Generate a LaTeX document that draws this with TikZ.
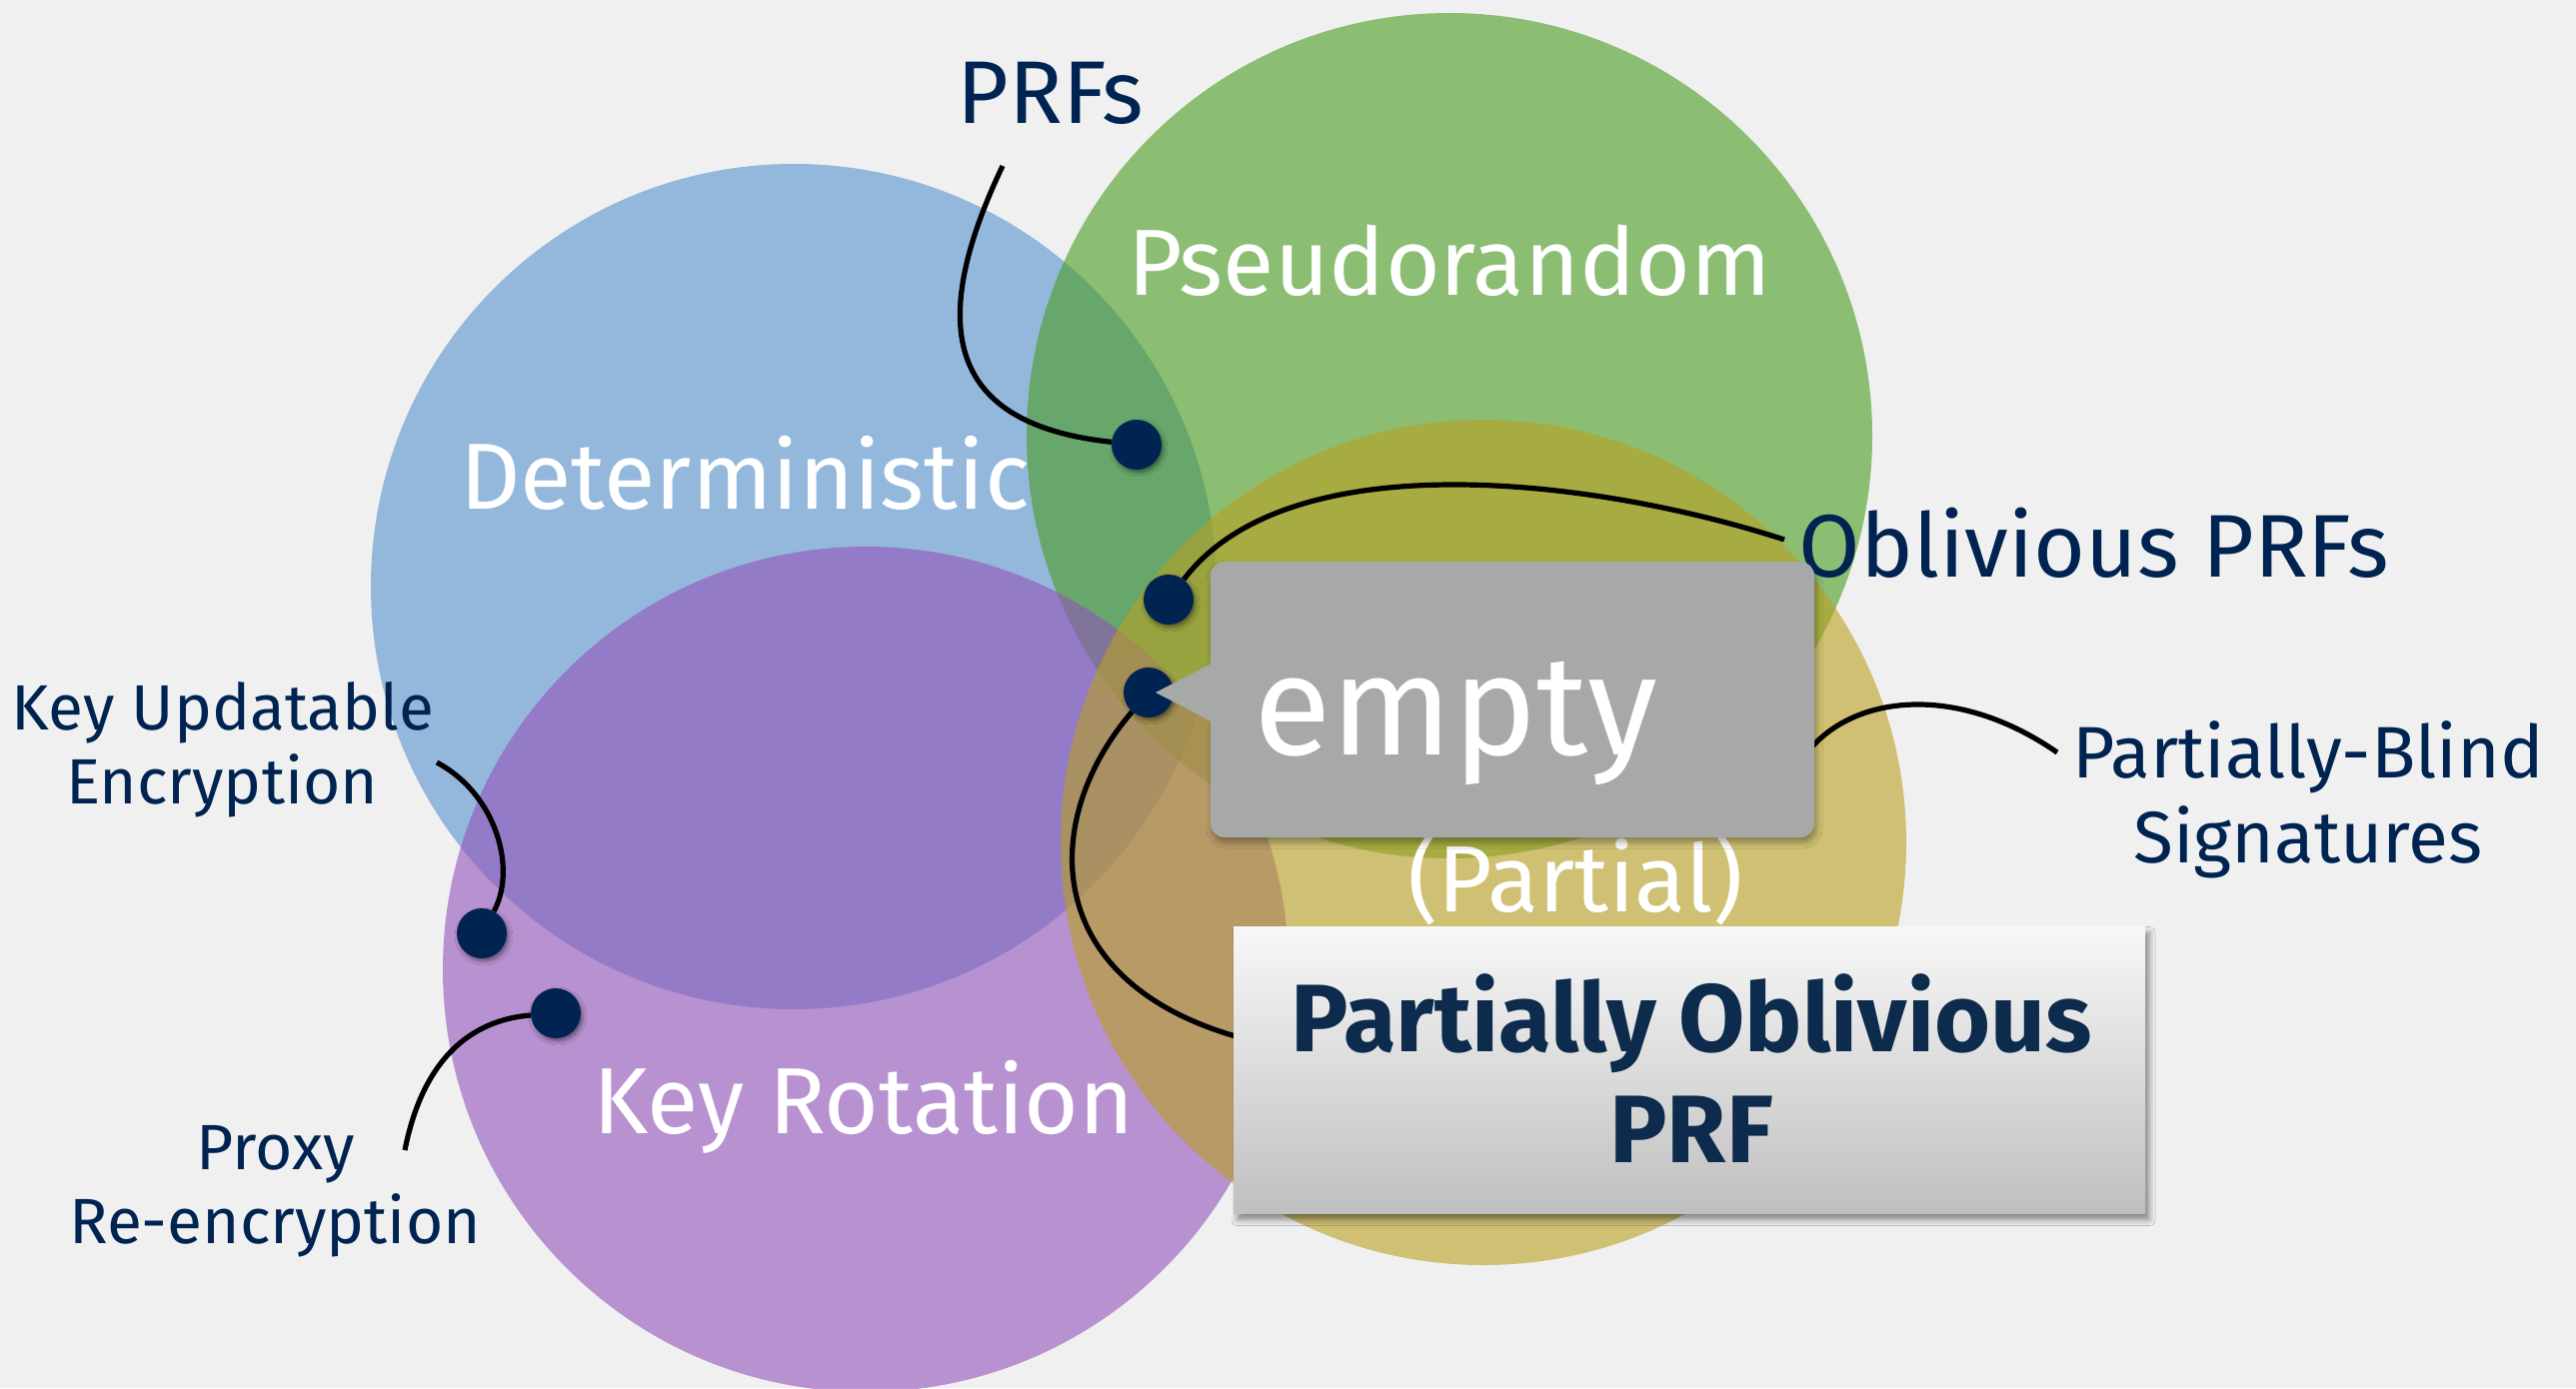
\documentclass[tikz,border=0pt]{standalone}
\usepackage{fontspec}
\setmainfont{Fira Sans}
\usetikzlibrary{shadows.blur}
\definecolor{bgc}{RGB}{240,240,240}
\definecolor{bluec}{RGB}{87,147,207}
\definecolor{greenc}{RGB}{73,157,32}
\definecolor{purplec}{RGB}{147,83,188}
\definecolor{yellowc}{RGB}{185,160,33}
\definecolor{navy}{RGB}{0,36,82}
\definecolor{boxnavy}{RGB}{13,43,76}
\definecolor{calloutgrey}{RGB}{166,169,168}
\begin{document}
\begin{tikzpicture}[x=1pt,y=-1pt,
  venn/.style={circle, minimum size=846pt, inner sep=0pt, fill opacity=0.6},
  inlabel/.style={text=white, anchor=base, inner sep=0pt, font=\fontsize{94}{100}\selectfont},
  outlabel/.style={text=navy, anchor=base, inner sep=0pt},
  biglabel/.style={outlabel, font=\fontsize{89}{96}\selectfont},
  midlabel/.style={outlabel, font=\fontsize{73}{80}\selectfont},
  smalllabel/.style={outlabel, font=\fontsize{64}{70}\selectfont},
  dotnode/.style={circle, fill=navy, minimum size=50pt, inner sep=0pt,
    blur shadow={shadow xshift=2pt, shadow yshift=-3pt, shadow blur radius=4pt, shadow opacity=45}},
  link/.style={line width=5.2pt, black},
  calloutbox/.style={rectangle, rounded corners=14pt, fill=calloutgrey, minimum width=604pt,
    minimum height=276pt, inner sep=0pt,
    blur shadow={shadow xshift=2pt, shadow yshift=-5pt, shadow blur radius=6pt, shadow opacity=35}},
  pobox/.style={rectangle, top color=white!97!black, bottom color=white!75!black,
    minimum width=912pt, minimum height=287pt, inner sep=0pt,
    blur shadow={shadow xshift=4pt, shadow yshift=-6pt, shadow blur radius=6pt, shadow opacity=45}},
  potext/.style={text=boxnavy, anchor=base, inner sep=0pt, font=\fontsize{96}{104}\selectfont\bfseries},
]
% canvas
\fill[bgc] (0,0) rectangle (2577,1389);
\useasboundingbox (0,0) rectangle (2577,1389);

% the four overlapping sets
\node[venn, fill=bluec]   (det)  at (794,587)  {};
\node[venn, fill=greenc]  (pse)  at (1450,436) {};
\node[venn, fill=purplec] (rot)  at (866,970)  {};
\node[venn, fill=yellowc] (part) at (1484,843) {};

% set names
\node[inlabel] (detlbl)  at (745,509)  {Deterministic};
\node[inlabel] (pselbl)  at (1450,295) {Pseudorandom};
\node[inlabel] (rotlbl)  at (864,1134) {Key Rotation};
\node[inlabel] (partlbl) at (1576,912) {(Partial)};

% outside labels
\node[biglabel]   (prfs)  at (1051,123)  {PRFs};
\node[biglabel]   (oprfs) at (2095,577)  {Oblivious PRFs};
\node[midlabel]   (pbs1)  at (2309,778)  {Partially-Blind};
\node[midlabel]   (pbs2)  at (2309,863)  {Signatures};
\node[smalllabel] (kue1)  at (223,730)   {Key Updatable};
\node[smalllabel] (kue2)  at (222,804)   {Encryption};
\node[smalllabel] (pre1)  at (276,1170)  {Proxy};
\node[smalllabel] (pre2)  at (275,1244)  {Re-encryption};

% free ends of the pointer lines
\coordinate (prfsend)  at (1003,166);
\coordinate (oprfsend) at (1785,540);
\coordinate (pbsend)   at (2058,753);
\coordinate (pbsstart) at (1813,747);
\coordinate (kueend)   at (437,763);
\coordinate (preend)   at (405,1151);
\coordinate (poend)    at (1236,1037);

% markers
\node[dotnode] (dprf)  at (1137,445) {};
\node[dotnode] (doprf) at (1169,600) {};
\node[dotnode] (dpop)  at (1149,693) {};
\node[dotnode] (dkue)  at (482,934)  {};
\node[dotnode] (dpre)  at (556,1014) {};

% pointer lines
\draw[link] (prfsend) .. controls (925,330) and (950,425) .. (dprf);
\draw[link] (oprfsend) .. controls (1600,480) and (1290,440) .. (doprf);
\draw[link] (dpop) .. controls (1040,820) and (1040,980) .. (poend);
\draw[link] (pbsstart) .. controls (1860,695) and (1960,685) .. (pbsend);
\draw[link] (kueend) .. controls (497,795) and (517,870) .. (dkue);
\draw[link] (preend) .. controls (425,1050) and (480,1020) .. (dpre);

% callout for the empty intersection
\node[calloutbox] (emptybox) at (1513,700) {};
\fill[calloutgrey] (1214,663) -- (1156,693) -- (1214,723) -- cycle;
\node[text=white, anchor=base, inner sep=0pt, font=\fontsize{142}{150}\selectfont] (emptytxt) at (1456,755) {empty};

% highlighted result
\node[pobox] (po) at (1690,1071) {};
\node[potext] (potop) at (1692,1052) {Partially Oblivious};
\node[potext] (pobot) at (1692,1163) {PRF};
\end{tikzpicture}
\end{document}
